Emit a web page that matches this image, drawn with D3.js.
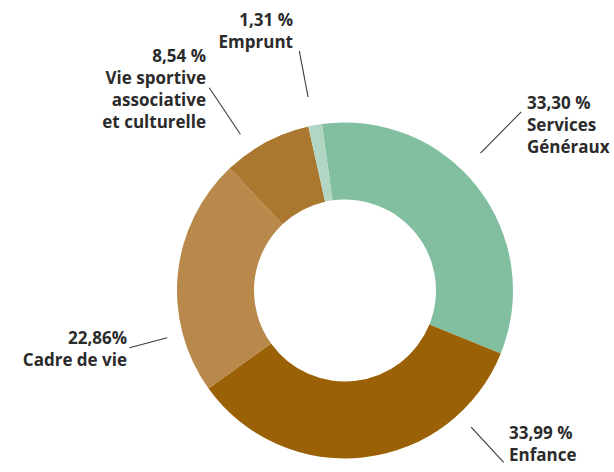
<!DOCTYPE html>
<html>
<head>
<meta charset="utf-8">
<script src="https://cdn.jsdelivr.net/npm/d3@7"></script>
<style>
  html, body { margin: 0; padding: 0; background: #ffffff; }
  svg { display: block; }
  text { font-family: "Open Sans", "Lato", sans-serif; font-weight: 700; fill: #2b2b2b; }
</style>
</head>
<body>
<svg id="chart" width="614" height="472"></svg>
<script>
// ---- data ----
const categories = ["Services Généraux", "Enfance", "Cadre de vie", "Vie sportive associative et culturelle", "Emprunt"];
const values = [33.30, 33.99, 22.86, 8.54, 1.31];
const valueLabels = ["33,30 %", "33,99 %", "22,86%", "8,54 %", "1,31 %"];
const nameLines = [["Services", "Généraux"], ["Enfance"], ["Cadre de vie"], ["Vie sportive", "associative", "et culturelle"], ["Emprunt"]];
const colors = ["#82bfa0", "#9a6106", "#b8894b", "#ab7830", "#b1d6c3"];

// ---- layout ----
const W = 614, H = 472;
const cx = 345, cy = 290.5;
const rOuter = 168, rInner = 91;
const start = -7.9 * Math.PI / 180;

// annotation layout: leader line (angle deg, inner r, outer r), label anchor
const annot = [
  { a: 44.6, r0: 193, r1: 251, x: 527, y: 109, anchor: "start" },
  { a: 137.3, r0: 186, r1: 234, x: 509, y: 439, anchor: "start" },
  { a: 255.1, r0: 184, r1: 223, x: 127, y: 344, anchor: "end" },
  { a: -33.8, r0: 188, r1: 244, x: 206, y: 62, anchor: "end" },
  { a: -10.8, r0: 197, r1: 244, x: 293, y: 26, anchor: "end" }
];

const svg = d3.select("#chart");
const g = svg.append("g").attr("transform", `translate(${cx},${cy})`);

const pie = d3.pie().sort(null).value(d => d).startAngle(start).endAngle(start + 2 * Math.PI);
const arc = d3.arc().innerRadius(rInner).outerRadius(rOuter);

const arcs = pie(values);
g.selectAll("path.slice")
  .data(arcs)
  .join("path")
  .attr("class", "slice")
  .attr("d", arc)
  .attr("fill", (d, i) => colors[i]);

// leader lines
g.selectAll("line.leader")
  .data(annot)
  .join("line")
  .attr("class", "leader")
  .each(function(d) {
    const rad = d.a * Math.PI / 180;
    const p0 = d3.pointRadial(rad, d.r0);
    const p1 = d3.pointRadial(rad, d.r1);
    d3.select(this).attr("x1", p0[0]).attr("y1", p0[1]).attr("x2", p1[0]).attr("y2", p1[1]);
  })
  .attr("stroke", "#3a3a3a")
  .attr("stroke-width", 1.1);

// labels
const lineH = 22;
const labels = svg.selectAll("text.lbl")
  .data(categories)
  .join("text")
  .attr("class", "lbl")
  .attr("x", (d, i) => annot[i].x)
  .attr("y", (d, i) => annot[i].y)
  .attr("text-anchor", (d, i) => annot[i].anchor)
  .style("font-size", "17px");

labels.each(function(d, i) {
  const t = d3.select(this);
  const lines = [valueLabels[i]].concat(nameLines[i]);
  lines.forEach((ln, k) => {
    t.append("tspan")
      .attr("x", annot[i].x)
      .attr("dy", k === 0 ? 0 : lineH)
      .text(ln);
  });
});
</script>
</body>
</html>
